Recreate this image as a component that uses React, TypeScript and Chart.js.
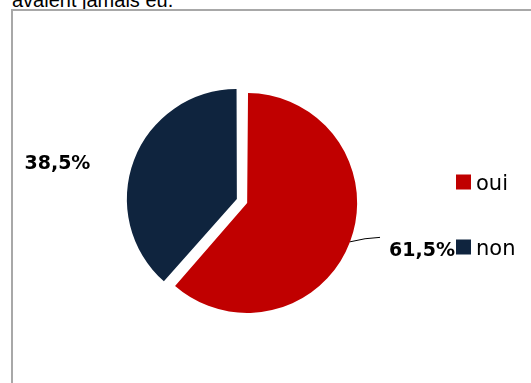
import React, { useEffect, useRef } from "react";
import { Chart, registerables } from "chart.js";

Chart.register(...registerables);

// ---- data ----
const titleTail = "avaient jamais eu.";
const categories = ["oui", "non"];
const values = [61.5, 38.5];
const valueLabels = ["61,5%", "38,5%"];
const colors = ["#C00000", "#0F243E"];

// ---- layout / style ----
const W = 531;
const H = 383;
const RADIUS = 110;
const EXPLODE_PX = 5.5; // slice translation in pixels
// label anchor (center x, baseline y) relative to exploded slice centre, in radius units
const LABEL_POS = [
  { x: 1.59, y: 0.485 },
  { x: -1.631, y: -0.276 },
];
// leader line end relative to slice centre, in radius units (null = none)
const LEADER_END: ({ x: number; y: number } | null)[] = [{ x: 1.208, y: 0.313 }, null];
const LEGEND_BOX_X = 456;
const LEGEND_TEXT_X = 476;
const LEGEND_BASELINES = [189.5, 254.5];
const LEGEND_BOX = 15;

const decorPlugin = {
  id: "pieDecor",
  beforeDatasetsDraw(chart: any) {
    const meta = chart.getDatasetMeta(0);
    const base = meta.controller.outerRadius;
    meta.data.forEach((arc: any) => {
      const off = (arc.options.offset || 0) / 4;
      const fix = 1 - Math.sin(Math.min(Math.PI, arc.circumference || 0));
      arc.outerRadius = base - off * fix;
    });
  },
  afterDatasetsDraw(chart: any) {
    const ctx = chart.ctx as CanvasRenderingContext2D;
    const meta = chart.getDatasetMeta(0);
    const R = meta.controller.outerRadius;
    ctx.save();
    meta.data.forEach((arc: any, i: number) => {
      const off = (arc.options.offset || 0) / 4;
      const mid = (arc.startAngle + arc.endAngle) / 2;
      const cx = arc.x + Math.cos(mid) * off;
      const cy = arc.y + Math.sin(mid) * off;
      const le = LEADER_END[i];
      if (le) {
        const sx = cx + Math.cos(mid) * R;
        const sy = cy + Math.sin(mid) * R;
        const ex = cx + le.x * R;
        const ey = cy + le.y * R;
        ctx.beginPath();
        ctx.strokeStyle = "#000000";
        ctx.lineWidth = 1;
        ctx.moveTo(sx, sy);
        ctx.quadraticCurveTo((sx + ex) / 2, ey + 0.5, ex, ey);
        ctx.stroke();
      }
      const lp = LABEL_POS[i];
      ctx.font = "bold 19px 'DejaVu Sans'";
      ctx.fillStyle = "#000000";
      ctx.textAlign = "center";
      ctx.textBaseline = "alphabetic";
      ctx.fillText(valueLabels[i], cx + lp.x * R, cy + lp.y * R);
    });
    // legend
    const labels = chart.data.labels as string[];
    const bg = chart.data.datasets[0].backgroundColor as string[];
    labels.forEach((lab, i) => {
      const bl = LEGEND_BASELINES[i];
      ctx.fillStyle = bg[i];
      ctx.fillRect(LEGEND_BOX_X, bl - LEGEND_BOX, LEGEND_BOX, LEGEND_BOX);
      ctx.font = "21px 'DejaVu Sans'";
      ctx.fillStyle = "#000000";
      ctx.textAlign = "left";
      ctx.textBaseline = "alphabetic";
      ctx.fillText(lab, LEGEND_TEXT_X, bl);
    });
    ctx.restore();
  },
};

export default function App() {
  const ref = useRef<HTMLCanvasElement | null>(null);
  useEffect(() => {
    if (!ref.current) return;
    const chart = new Chart(ref.current, {
      type: "pie",
      data: {
        labels: categories,
        datasets: [
          {
            data: values,
            backgroundColor: colors,
            borderWidth: 0,
            offset: EXPLODE_PX * 4,
            radius: RADIUS,
          } as any,
        ],
      },
      options: {
        responsive: false,
        animation: false,
        events: [],
        layout: { padding: { left: 0, right: 47, top: 19, bottom: 0 } },
        plugins: {
          legend: { display: false },
          tooltip: { enabled: false },
          title: { display: false },
        },
      },
      plugins: [decorPlugin],
    });
    return () => chart.destroy();
  }, []);

  return (
    <div
      style={{
        position: "fixed",
        left: 0,
        top: 0,
        width: W,
        height: H,
        overflow: "hidden",
        background: "#ffffff",
      }}
    >
      <div
        style={{
          position: "absolute",
          left: 12,
          top: -10,
          fontFamily: "'Liberation Sans', Arial, sans-serif",
          fontSize: 20,
          lineHeight: "20px",
          color: "#000",
          whiteSpace: "nowrap",
        }}
      >
        {titleTail}
      </div>
      <div
        style={{
          position: "absolute",
          left: 11,
          top: 9,
          width: 700,
          height: 600,
          border: "2px solid #a8a8a8",
          boxSizing: "border-box",
        }}
      />
      <canvas
        ref={ref}
        width={W}
        height={H}
        style={{ position: "absolute", left: 0, top: 0, width: W, height: H }}
      />
    </div>
  );
}
